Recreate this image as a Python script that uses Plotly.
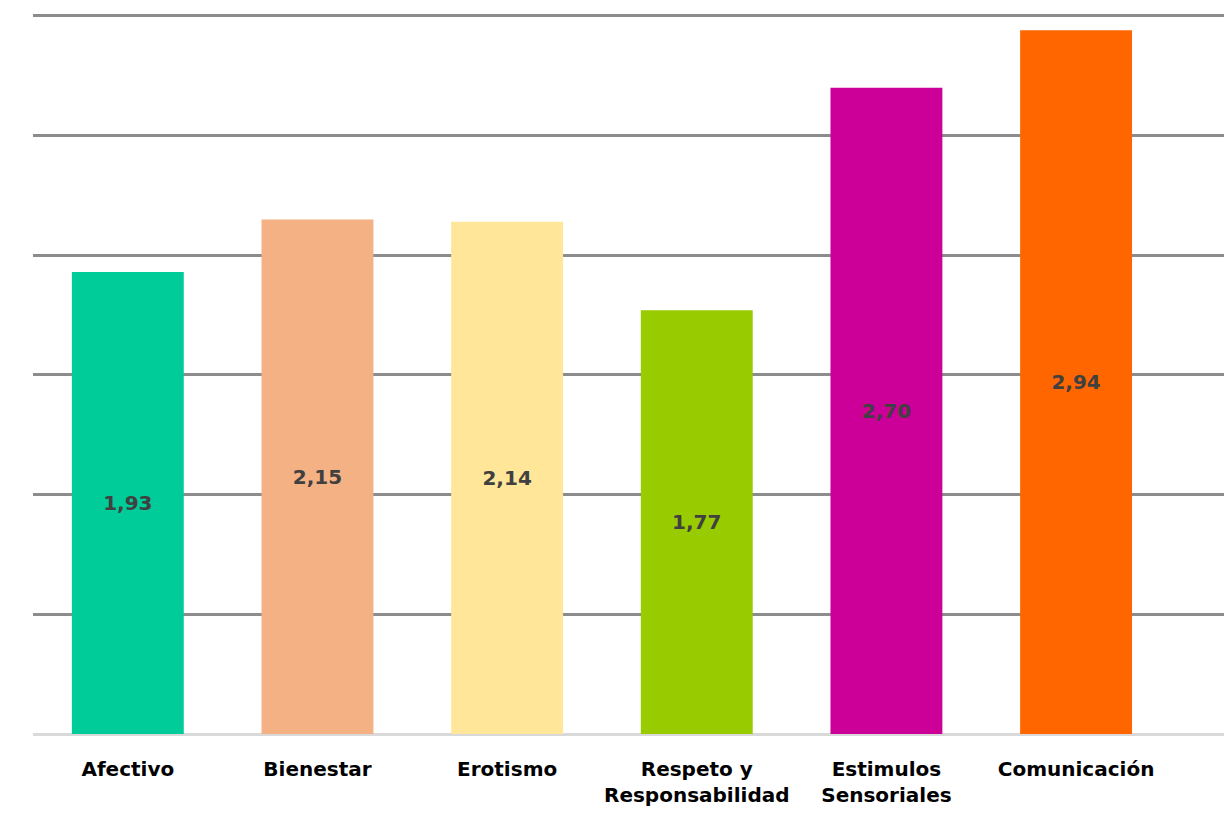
import plotly.graph_objects as go

categories = ["Afectivo", "Bienestar", "Erotismo", "Respeto y<br>Responsabilidad",
              "Estimulos<br>Sensoriales", "Comunicación"]
values = [1.93, 2.15, 2.14, 1.77, 2.70, 2.94]
value_labels = ["1,93", "2,15", "2,14", "1,77", "2,70", "2,94"]
colors = ["#00CC99", "#F4B183", "#FFE699", "#99CC00", "#CC0099", "#FF6600"]
y_ticks = [0, 0.5, 1.0, 1.5, 2.0, 2.5, 3.0]

fig = go.Figure(go.Bar(
    x=list(range(len(categories))),
    y=values,
    marker=dict(color=colors, line=dict(width=0)),
    text=value_labels,
    textposition="inside",
    insidetextanchor="middle",
    textangle=0,
    textfont=dict(family="DejaVu Sans", size=20, color="#404040", weight="bold"),
    width=0.59,
    hoverinfo="skip",
))

fig.update_layout(
    width=1224, height=817,
    margin=dict(l=33, r=0, t=4, b=83),
    paper_bgcolor="white", plot_bgcolor="white",
    showlegend=False,
    uniformtext=dict(minsize=20, mode="show"),
)
fig.update_xaxes(
    range=[-0.5, 5.78],
    tickmode="array", tickvals=list(range(len(categories))), ticktext=categories,
    tickfont=dict(family="DejaVu Sans", size=20, color="#000000", weight="bold"),
    showgrid=False, zeroline=False,
    showline=False, ticks="",
    ticklabelstandoff=21,
)
fig.update_yaxes(
    range=[0, 3.05],
    tickmode="array", tickvals=y_ticks, showticklabels=False,
    showgrid=True, gridcolor="#8C8C8C", gridwidth=2.5,
    zeroline=True, zerolinecolor="#D9D9D9", zerolinewidth=3,
)

fig.write_html("out.html",
               config={"displayModeBar": False},
               post_script="document.body.style.margin='0';document.body.style.overflow='hidden';")
